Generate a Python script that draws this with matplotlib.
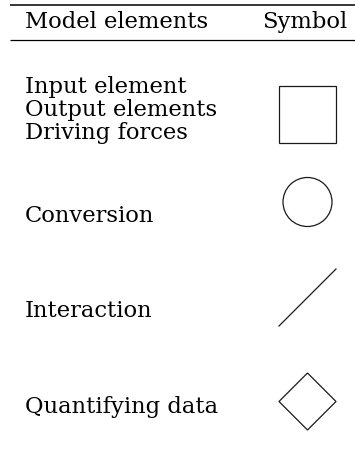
import matplotlib
matplotlib.use("Agg")
import matplotlib.pyplot as plt
from matplotlib.patches import Rectangle, Circle, Polygon
from matplotlib.lines import Line2D

headers = ["Model elements", "Symbol"]
element_labels = ["Input element", "Output elements", "Driving forces",
                  "Conversion", "Interaction", "Quantifying data"]
label_baselines = [93, 116, 139, 222, 317, 413]
symbols = ["square", "circle", "line", "diamond"]
symbol_centers = [114.5, 202, 297.5, 401.5]

W, H = 355, 450
fig = plt.figure(figsize=(W / 100, H / 100), dpi=100)
ax = fig.add_axes([0, 0, 1, 1])
ax.set_xlim(0, W)
ax.set_ylim(H, 0)
ax.axis("off")

font = dict(family="DejaVu Serif", fontsize=16.3, color="black")
col = "#1a1a1a"
lw = 0.9

# rules
ax.plot([10, W], [5, 5], color="black", lw=1.1, solid_capstyle="butt")
ax.plot([10, W], [39.5, 39.5], color="black", lw=0.9, solid_capstyle="butt")

ax.text(25, 28, headers[0], ha="left", va="baseline", **font)
ax.text(347, 28, headers[1], ha="right", va="baseline", **font)

for lab, y in zip(element_labels, label_baselines):
    ax.text(25, y, lab, ha="left", va="baseline", **font)

cx = 307.5
half = 28.5
for sym, cy in zip(symbols, symbol_centers):
    if sym == "square":
        ax.add_patch(Rectangle((cx - half, cy - half), 2 * half, 2 * half,
                               fill=False, ec=col, lw=lw))
    elif sym == "circle":
        ax.add_patch(Circle((cx, cy), 24.5, fill=False, ec=col, lw=lw))
    elif sym == "line":
        ax.add_line(Line2D([cx - half, cx + half], [cy + half, cy - half],
                           color=col, lw=lw))
    elif sym == "diamond":
        ax.add_patch(Polygon([(cx, cy - half), (cx + half, cy),
                              (cx, cy + half), (cx - half, cy)],
                             closed=True, fill=False, ec=col, lw=lw))

fig.savefig("out.png", dpi=100, facecolor="white")
